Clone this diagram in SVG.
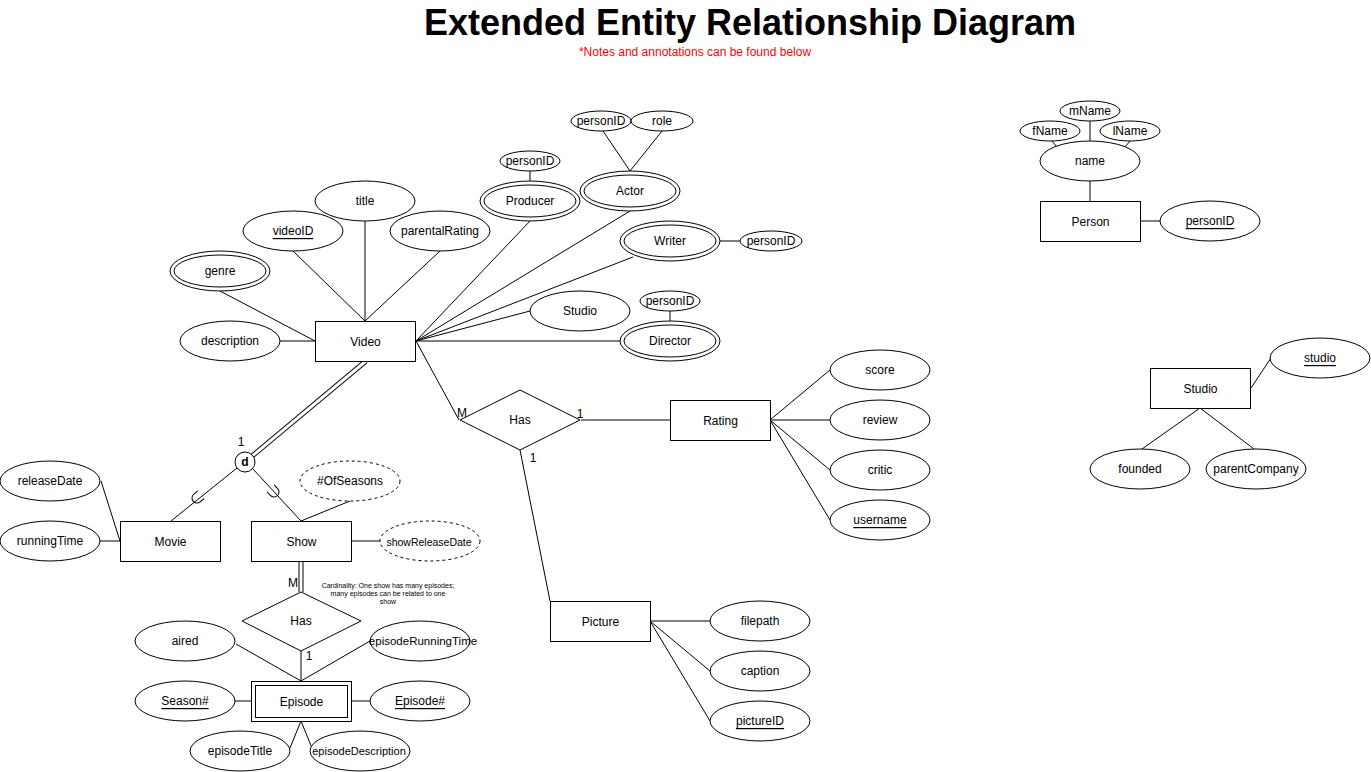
<svg xmlns="http://www.w3.org/2000/svg" width="1371" height="772" viewBox="0 0 1371 772">
<style>
text{font-family:"Liberation Sans",Arial,sans-serif;font-size:12px;fill:#000;text-anchor:middle;dominant-baseline:central}
.e{fill:#fff;stroke:#000;stroke-width:1}
.d{fill:#fff;stroke:#000;stroke-width:1;stroke-dasharray:3 3}
.r{fill:#fff;stroke:#000;stroke-width:1}
.c line,.c path,.c polyline{stroke:#000;stroke-width:1;fill:none}
.u{text-decoration:underline}
.c line.dbo{stroke:#000;stroke-width:5;fill:none}
.c line.dbi{stroke:#fff;stroke-width:3;fill:none}
</style>
<rect x="0" y="0" width="1371" height="772" fill="#fff"/>
<text x="750" y="22" style="font-size:36px;font-weight:bold">Extended Entity Relationship Diagram</text>
<text x="695" y="52" style="fill:#ff0000">*Notes and annotations can be found below</text>

<g id="connectors" class="c">
<line x1="293" y1="251" x2="365" y2="321"/>
<line x1="365" y1="221" x2="365" y2="321"/>
<line x1="440" y1="251" x2="365" y2="321"/>
<line x1="220" y1="291" x2="315" y2="341"/>
<line x1="280" y1="341" x2="315" y2="341"/>
<line x1="416" y1="341" x2="530" y2="221"/>
<line x1="416" y1="341" x2="630" y2="211"/>
<line x1="416" y1="341" x2="633" y2="257"/>
<line x1="416" y1="341" x2="530" y2="311"/>
<line x1="416" y1="341" x2="620" y2="341"/>
<line x1="530" y1="170" x2="530" y2="181"/>
<line x1="603" y1="131" x2="630" y2="171"/>
<line x1="662" y1="131" x2="630" y2="171"/>
<line x1="720" y1="241" x2="740" y2="241"/>
<line x1="670" y1="311" x2="670" y2="321"/>
<line x1="416" y1="341" x2="459" y2="420"/>
<line x1="581" y1="420" x2="670" y2="420"/>
<line x1="520" y1="450" x2="550" y2="601"/>
<line x1="770" y1="420" x2="830" y2="370"/>
<line x1="770" y1="420" x2="830" y2="420"/>
<line x1="770" y1="420" x2="830" y2="470"/>
<line x1="770" y1="420" x2="830" y2="520"/>
<line x1="650" y1="621" x2="710" y2="621"/>
<line x1="650" y1="621" x2="710" y2="671"/>
<line x1="650" y1="621" x2="710" y2="721"/>
<line class="dbo" x1="366" y1="361" x2="252.6" y2="455.6"/>
<line class="dbi" x1="366" y1="361" x2="252.6" y2="455.6"/>
<line x1="237" y1="468" x2="171" y2="521"/>
<line x1="253" y1="469" x2="301" y2="521"/>
<path d="M 5 -5 L 0 -5 A 5 5 0 0 0 0 5 L 5 5" transform="translate(197,498) rotate(-39)"/>
<path d="M 5 -5 L 0 -5 A 5 5 0 0 0 0 5 L 5 5" transform="translate(274,492) rotate(-133)"/>
<line x1="301" y1="521" x2="350" y2="501"/>
<line x1="351" y1="541" x2="381" y2="541"/>
<line x1="101" y1="481" x2="120" y2="541"/>
<line x1="100" y1="541" x2="120" y2="541"/>
<line class="dbo" x1="301" y1="562" x2="301" y2="592"/>
<line class="dbi" x1="301" y1="562" x2="301" y2="592"/>
<line x1="301" y1="651" x2="301" y2="681"/>
<line x1="236" y1="644" x2="301" y2="681"/>
<line x1="370" y1="641" x2="301" y2="681"/>
<line x1="235" y1="701" x2="251" y2="701"/>
<line x1="351" y1="701" x2="370" y2="701"/>
<line x1="301" y1="721" x2="290" y2="748"/>
<line x1="301" y1="721" x2="312" y2="748"/>
<line x1="1140" y1="221" x2="1160" y2="221"/>
<line x1="1090" y1="181" x2="1090" y2="201"/>
<line x1="1090" y1="121" x2="1090" y2="141"/>
<line x1="1052" y1="141" x2="1057" y2="147"/>
<line x1="1130" y1="141" x2="1125" y2="147"/>
<line x1="1251" y1="388" x2="1271" y2="358"/>
<line x1="1200" y1="408" x2="1142" y2="449"/>
<line x1="1200" y1="408" x2="1254" y2="449"/>
</g>

<g id="labels">
<text x="241" y="442">1</text>
<text x="462" y="413">M</text>
<text x="580" y="414">1</text>
<text x="533" y="458">1</text>
<text x="293" y="583">M</text>
<text x="309" y="656">1</text>
<text x="388" y="585" style="font-size:7px">Cardinality: One show has many episodes;</text>
<text x="388" y="593" style="font-size:7px">many episodes can be related to one</text>
<text x="388" y="601" style="font-size:7px">show</text>
</g>

<g id="video"><rect class="r" x="315.5" y="321.5" width="100" height="40"/><text x="365.5" y="341.5">Video</text></g>
<g id="title-attr"><ellipse class="e" cx="365" cy="201" rx="50" ry="20"/><text x="365" y="201">title</text></g>
<g id="videoID"><ellipse class="e" cx="293" cy="231" rx="50" ry="20"/><text x="293" y="231" class="u">videoID</text></g>
<g id="parentalRating"><ellipse class="e" cx="440" cy="231" rx="50" ry="20"/><text x="440" y="231">parentalRating</text></g>
<g id="genre"><ellipse class="e" cx="220" cy="271" rx="50" ry="20"/><ellipse class="e" cx="220" cy="271" rx="46" ry="16"/><text x="220" y="271">genre</text></g>
<g id="description"><ellipse class="e" cx="230" cy="341" rx="50" ry="20"/><text x="230" y="341">description</text></g>
<g id="producer"><ellipse class="e" cx="530" cy="201" rx="50" ry="20"/><ellipse class="e" cx="530" cy="201" rx="46" ry="16"/><text x="530" y="201">Producer</text></g>
<g id="producer-personID"><ellipse class="e" cx="530" cy="161" rx="30" ry="10"/><text x="530" y="161">personID</text></g>
<g id="actor"><ellipse class="e" cx="630" cy="191" rx="50" ry="20"/><ellipse class="e" cx="630" cy="191" rx="46" ry="16"/><text x="630" y="191">Actor</text></g>
<g id="actor-personID"><ellipse class="e" cx="601" cy="121" rx="30" ry="10"/><text x="601" y="121">personID</text></g>
<g id="actor-role"><ellipse class="e" cx="662" cy="121" rx="31" ry="10"/><text x="662" y="121">role</text></g>
<g id="writer"><ellipse class="e" cx="670" cy="241" rx="50" ry="20"/><ellipse class="e" cx="670" cy="241" rx="46" ry="16"/><text x="670" y="241">Writer</text></g>
<g id="writer-personID"><ellipse class="e" cx="771" cy="241" rx="31" ry="10"/><text x="771" y="241">personID</text></g>
<g id="studio-attr"><ellipse class="e" cx="580" cy="311" rx="50" ry="20"/><text x="580" y="311">Studio</text></g>
<g id="director"><ellipse class="e" cx="670" cy="341" rx="50" ry="20"/><ellipse class="e" cx="670" cy="341" rx="46" ry="16"/><text x="670" y="341">Director</text></g>
<g id="director-personID"><ellipse class="e" cx="670" cy="301" rx="30" ry="10"/><text x="670" y="301">personID</text></g>

<g id="has-rating"><polygon class="r" points="460,420 520,390 580,420 520,450"/><text x="520" y="420">Has</text></g>
<g id="rating"><rect class="r" x="670.5" y="400.5" width="100" height="40"/><text x="720.5" y="420.5">Rating</text></g>
<g id="score"><ellipse class="e" cx="880" cy="370" rx="50" ry="20"/><text x="880" y="370">score</text></g>
<g id="review"><ellipse class="e" cx="880" cy="420" rx="50" ry="20"/><text x="880" y="420">review</text></g>
<g id="critic"><ellipse class="e" cx="880" cy="470" rx="50" ry="20"/><text x="880" y="470">critic</text></g>
<g id="username"><ellipse class="e" cx="880" cy="520" rx="50" ry="20"/><text x="880" y="520" class="u">username</text></g>

<g id="picture"><rect class="r" x="550.5" y="601.5" width="100" height="40"/><text x="600.5" y="621.5">Picture</text></g>
<g id="filepath"><ellipse class="e" cx="760" cy="621" rx="50" ry="20"/><text x="760" y="621">filepath</text></g>
<g id="caption"><ellipse class="e" cx="760" cy="671" rx="50" ry="20"/><text x="760" y="671">caption</text></g>
<g id="pictureID"><ellipse class="e" cx="760" cy="721" rx="50" ry="20"/><text x="760" y="721" class="u">pictureID</text></g>

<g id="disjoint"><circle class="e" cx="245" cy="462" r="10"/><text x="245" y="462" style="font-weight:bold">d</text></g>
<g id="movie"><rect class="r" x="120.5" y="521.5" width="100" height="40"/><text x="170.5" y="541.5">Movie</text></g>
<g id="releaseDate"><ellipse class="e" cx="50" cy="481" rx="50" ry="20"/><text x="50" y="481">releaseDate</text></g>
<g id="runningTime"><ellipse class="e" cx="50" cy="541" rx="50" ry="20"/><text x="50" y="541">runningTime</text></g>
<g id="show"><rect class="r" x="251.5" y="521.5" width="100" height="40"/><text x="301.5" y="541.5">Show</text></g>
<g id="ofSeasons"><ellipse class="d" cx="350" cy="481" rx="50" ry="20"/><text x="350" y="481">#OfSeasons</text></g>
<g id="showReleaseDate"><ellipse class="d" cx="430" cy="541" rx="50" ry="20"/><text x="429" y="542" style="font-size:10.5px">showReleaseDate</text></g>

<g id="has-episode"><polygon class="r" points="242,621 301,592 361,621 301,651"/><text x="301" y="621">Has</text></g>
<g id="episode"><rect class="r" x="251.5" y="681.5" width="100" height="40"/><rect class="r" x="255.5" y="685.5" width="92" height="32"/><text x="301.5" y="701.5">Episode</text></g>
<g id="aired"><ellipse class="e" cx="185" cy="641" rx="50" ry="20"/><text x="185" y="641">aired</text></g>
<g id="episodeRunningTime"><ellipse class="e" cx="420" cy="641" rx="50" ry="20"/><text x="423" y="641" style="font-size:11.5px">episodeRunningTime</text></g>
<g id="seasonNo"><ellipse class="e" cx="185" cy="701" rx="50" ry="20"/><text x="185" y="701" class="u">Season#</text></g>
<g id="episodeNo"><ellipse class="e" cx="420" cy="701" rx="50" ry="20"/><text x="420" y="701" class="u">Episode#</text></g>
<g id="episodeTitle"><ellipse class="e" cx="240" cy="751" rx="50" ry="20"/><text x="240" y="751">episodeTitle</text></g>
<g id="episodeDescription"><ellipse class="e" cx="360" cy="751" rx="50" ry="20"/><text x="359" y="751" style="font-size:11px">episodeDescription</text></g>

<g id="person"><rect class="r" x="1040.5" y="201.5" width="100" height="40"/><text x="1090.5" y="221.5">Person</text></g>
<g id="person-personID"><ellipse class="e" cx="1210" cy="221" rx="50" ry="20"/><text x="1210" y="221" class="u">personID</text></g>
<g id="name"><ellipse class="e" cx="1090" cy="161" rx="50" ry="20"/><text x="1090" y="161">name</text></g>
<g id="mName"><ellipse class="e" cx="1090" cy="111" rx="30" ry="10"/><text x="1090" y="111">mName</text></g>
<g id="fName"><ellipse class="e" cx="1050" cy="131" rx="30" ry="10"/><text x="1050" y="131">fName</text></g>
<g id="lName"><ellipse class="e" cx="1130" cy="131" rx="30" ry="10"/><text x="1130" y="131">lName</text></g>

<g id="studio"><rect class="r" x="1150.5" y="368.5" width="100" height="40"/><text x="1200.5" y="388.5">Studio</text></g>
<g id="studio-key"><ellipse class="e" cx="1320" cy="358" rx="50" ry="20"/><text x="1320" y="358" class="u">studio</text></g>
<g id="founded"><ellipse class="e" cx="1140" cy="469" rx="50" ry="20"/><text x="1140" y="469">founded</text></g>
<g id="parentCompany"><ellipse class="e" cx="1256" cy="469" rx="50" ry="20"/><text x="1256" y="469">parentCompany</text></g>
</svg>
